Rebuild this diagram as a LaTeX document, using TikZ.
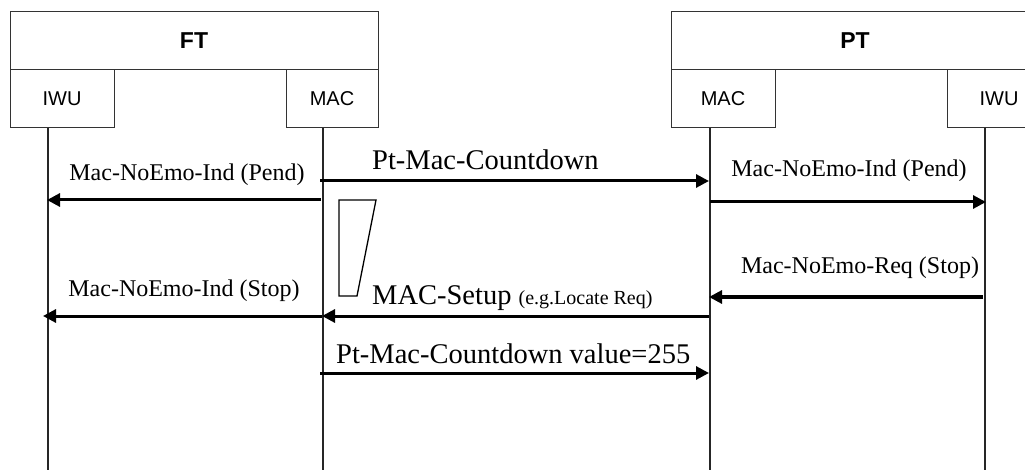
\documentclass[tikz,border=0pt]{standalone}
\usepackage{fontspec}
\setmainfont{Liberation Serif}
\setsansfont{Liberation Sans}
\usetikzlibrary{arrows.meta}
\begin{document}
\begin{tikzpicture}[x=1pt,y=-1pt,
  ent/.style={draw=black!80,line width=1pt,inner sep=0pt,minimum height=58pt,font=\sffamily\bfseries\fontsize{23}{26}\selectfont},
  sub/.style={draw=black!80,line width=1pt,inner sep=0pt,minimum height=58pt,font=\sffamily\fontsize{20}{24}\selectfont},
  life/.style={line width=1.2pt,black!85},
  msg/.style={line width=3pt,-{Triangle[length=13pt,width=13pt]}},
  lbl/.style={inner sep=0pt,font=\fontsize{24}{28}\selectfont},
  big/.style={inner sep=0pt,font=\fontsize{28.5}{32}\selectfont}]
\useasboundingbox (0,0) rectangle (1025,470);
\fill[white] (0,0) rectangle (1025,470);
\clip (0,0) rectangle (1025,470);
% entity boxes
\node[ent,minimum width=368pt] (ft) at (194,41) {FT};
\node[sub,minimum width=104pt] (ftiwu) at (62,99) {IWU};
\node[sub,minimum width=92pt] (ftmac) at (332,99) {MAC};
\node[ent,minimum width=368pt] (pt) at (855,41) {PT};
\node[sub,minimum width=104pt] (ptmac) at (723,99) {MAC};
\node[sub,minimum width=104pt] (ptiwu) at (999,99) {IWU};
% lifelines
\coordinate (l1t) at (48,128); \coordinate (l1b) at (48,470);
\coordinate (l2t) at (323,128); \coordinate (l2b) at (323,470);
\coordinate (l3t) at (710,128); \coordinate (l3b) at (710,470);
\coordinate (l4t) at (985,128); \coordinate (l4b) at (985,470);
\draw[life] (l1t) -- (l1b);
\draw[life] (l2t) -- (l2b);
\draw[life] (l3t) -- (l3b);
\draw[life] (l4t) -- (l4b);
% message ends
\coordinate (m1s) at (320,181); \coordinate (m1e) at (709,181);
\coordinate (m2s) at (321,200); \coordinate (m2e) at (47,200);
\coordinate (m3s) at (710,202); \coordinate (m3e) at (986,202);
\coordinate (m4s) at (983,297); \coordinate (m4e) at (709,297);
\coordinate (m5s) at (709,316); \coordinate (m5e) at (322,316);
\coordinate (m6s) at (322,316); \coordinate (m6e) at (43,316);
\coordinate (m7s) at (320,373); \coordinate (m7e) at (709,373);
\draw[msg] (m1s) -- (m1e);
\draw[msg] (m2s) -- (m2e);
\draw[msg] (m3s) -- (m3e);
\draw[msg] (m4s) -- (m4e);
\draw[msg] (m5s) -- (m5e);
\draw[msg] (m6s) -- (m6e);
\draw[msg] (m7s) -- (m7e);
% labels
\node[big,anchor=base west] (t1) at (372,170) {Pt-Mac-Countdown};
\node[lbl,anchor=base] (t2) at (187,181) {Mac-NoEmo-Ind (Pend)};
\node[lbl,anchor=base] (t3) at (849,177) {Mac-NoEmo-Ind (Pend)};
\node[lbl,anchor=base] (t4) at (860,273) {Mac-NoEmo-Req (Stop)};
\node[lbl,anchor=base] (t6) at (184,297) {Mac-NoEmo-Ind (Stop)};
\node[big,anchor=base west] (t5) at (372,305) {MAC-Setup {\fontsize{20}{24}\selectfont(e.g.Locate Req)}};
\node[big,anchor=base west] (t7) at (336,363) {Pt-Mac-Countdown value=255};
% timer symbol
\draw[line width=1.3pt] (339,200) -- (376,200) -- (357,296) -- (339,296) -- cycle;
\end{tikzpicture}
\end{document}
